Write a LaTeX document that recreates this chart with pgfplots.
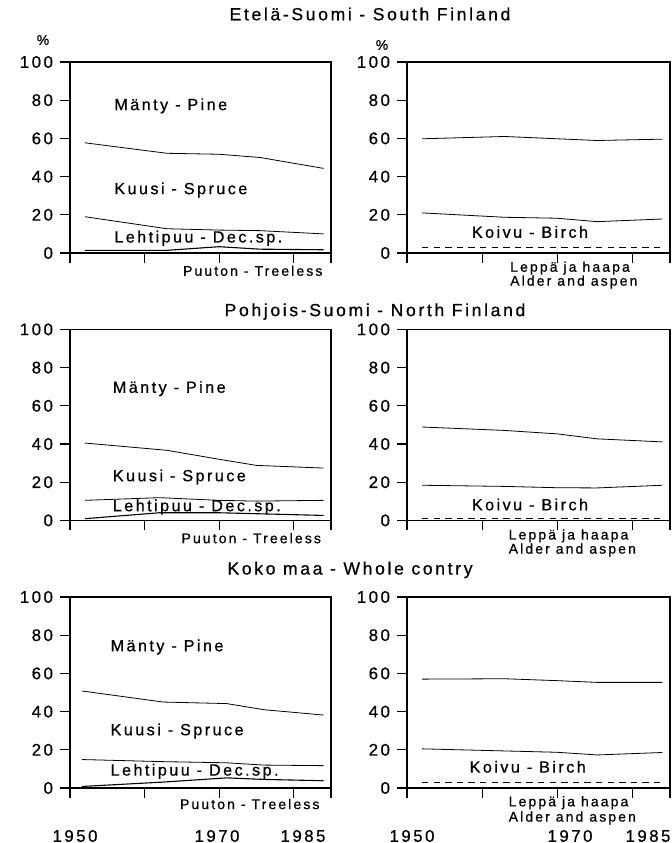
\documentclass[border=0pt]{standalone}
\usepackage{fontspec}
\setmainfont{Liberation Sans}[LetterSpace=15, FakeBold=0.7]
\usepackage{pgfplots}
\pgfplotsset{compat=1.18}

\pgfplotsset{
  panel/.style={
    scale only axis, height=95.5pt,
    xmin=1950, xmax=1985, ymin=0, ymax=100,
    xtick={1950,1960,1970,1980,1985}, xticklabels={},
    ytick={0,20,40,60,80,100},
    xtick pos=bottom, ytick pos=left, tick align=outside,
    major tick length=5pt,
    axis line style={line width=0.8pt},
    every tick/.style={line width=0.6pt,black},
    tick label style={font=\fontsize{8.4}{10}\selectfont},
    /pgf/number format/assume math mode=true,
    clip=false,
    cycle list={{black,solid,line width=0.55pt,mark=none}},
  },
  lp/.style={panel, width=130.5pt},
  rp/.style={panel, width=131.5pt},
  dashline/.style={black, line width=0.55pt, dash pattern=on 3.2pt off 2.6pt, mark=none},
  every node/.append style={inner sep=0pt},
}
\newcommand{\lab}{\fontsize{8.1}{9.5}\selectfont}
\newcommand{\sml}{\fontsize{7}{8.5}\selectfont}
\newcommand{\ttl}{\fontsize{8.8}{10}\selectfont}

\begin{document}
\begin{tikzpicture}
\useasboundingbox (0,0) rectangle (336pt,421.5pt);

% ---------------- Etelä-Suomi ----------------
\node[font=\ttl] at (185pt,414.5pt) {Etelä-Suomi - South Finland};
\node[font=\sml] at (21.5pt,401.5pt) {\%};
\node[font=\sml] at (191pt,399pt) {\%};

\begin{axis}[lp, at={(35pt,295pt)}, anchor=south west]
\addplot coordinates {(1952,57.7) (1963,52.2) (1970,51.7) (1975.5,50) (1984,44.3)};
\addplot coordinates {(1952,19) (1963,12.7) (1970,12) (1975.5,11.7) (1984,10)};
\addplot coordinates {(1952,1.4) (1963,1.4) (1970,3.3) (1975.5,2) (1984,1.7)};
\node[anchor=west,font=\lab] at (axis cs:1955,77) {Mänty - Pine};
\node[anchor=west,font=\lab] at (axis cs:1955,33) {Kuusi - Spruce};
\node[anchor=west,font=\lab] at (axis cs:1955,7.7) {Lehtipuu - Dec.sp.};
\node[anchor=east,font=\sml] at (axis cs:1984.8,-9.3) {Puuton - Treeless};
\end{axis}

\begin{axis}[rp, at={(203.5pt,295pt)}, anchor=south west]
\addplot coordinates {(1952,59.8) (1963,61) (1970,59.8) (1975.3,58.9) (1984,59.6)};
\addplot coordinates {(1952,21) (1963,18.7) (1970,18.2) (1975.3,16.4) (1984,17.8)};
\addplot[dashline] coordinates {(1952,3) (1963,3) (1970,3) (1975.3,3) (1984,3)};
\node[anchor=west,font=\lab] at (axis cs:1957.7,11) {Koivu - Birch};
\node[anchor=west,font=\sml] at (axis cs:1962.8,-7.9) {Leppä ja haapa};
\node[anchor=west,font=\sml] at (axis cs:1962.8,-15.2) {Alder and aspen};
\end{axis}

% ---------------- Pohjois-Suomi ----------------
\node[font=\ttl] at (187.5pt,265.7pt) {Pohjois-Suomi - North Finland};

\begin{axis}[lp, at={(35pt,161.3pt)}, anchor=south west]
\addplot coordinates {(1952,40.5) (1963,36.7) (1970,32) (1975,28.8) (1984,27.4)};
\addplot coordinates {(1952,10.5) (1962,11.9) (1970,10.5) (1975,10.1) (1984,10.5)};
\addplot coordinates {(1952,0.9) (1962,4) (1970,4) (1975,3.5) (1984,2.6)};
\node[anchor=west,font=\lab] at (axis cs:1954.8,69) {Mänty - Pine};
\node[anchor=west,font=\lab] at (axis cs:1954.8,22.7) {Kuusi - Spruce};
\node[anchor=west,font=\lab] at (axis cs:1954.8,7) {Lehtipuu - Dec.sp.};
\node[anchor=east,font=\sml] at (axis cs:1984.6,-9.3) {Puuton - Treeless};
\end{axis}

\begin{axis}[rp, at={(203.5pt,161.3pt)}, anchor=south west]
\addplot coordinates {(1952,48.9) (1963,47.1) (1970,45.3) (1975.3,42.7) (1984,41.1)};
\addplot coordinates {(1952,18.4) (1963,17.8) (1970,17.1) (1975.3,17) (1984,18.4)};
\addplot[dashline] coordinates {(1952,1) (1963,1) (1970,1) (1975.3,1) (1984,1)};
\node[anchor=west,font=\lab] at (axis cs:1957.7,8.3) {Koivu - Birch};
\node[anchor=west,font=\sml] at (axis cs:1962.6,-8.1) {Leppä ja haapa};
\node[anchor=west,font=\sml] at (axis cs:1962.6,-15.5) {Alder and aspen};
\end{axis}

% ---------------- Koko maa ----------------
\node[font=\ttl] at (175pt,136.5pt) {Koko maa - Whole contry};

\begin{axis}[lp, at={(35pt,27.5pt)}, anchor=south west]
\addplot coordinates {(1951.6,50.8) (1962.5,45) (1971,44.2) (1976,41) (1984,38.2)};
\addplot coordinates {(1951.6,14.9) (1962.5,13.8) (1971,13.2) (1976,12) (1984,11.7)};
\addplot coordinates {(1951.6,0.8) (1962.5,3.1) (1971,5.3) (1976,4.5) (1984,3.8)};
\node[anchor=west,font=\lab] at (axis cs:1954.5,73.8) {Mänty - Pine};
\node[anchor=west,font=\lab] at (axis cs:1954.5,29.8) {Kuusi - Spruce};
\node[anchor=west,font=\lab] at (axis cs:1954.5,8.7) {Lehtipuu - Dec.sp.};
\node[anchor=east,font=\sml] at (axis cs:1984.4,-8.4) {Puuton - Treeless};
\end{axis}

\begin{axis}[rp, at={(203.5pt,27.5pt)}, anchor=south west]
\addplot coordinates {(1952,57) (1963,57.2) (1970,56.2) (1975.3,55.3) (1984,55.3)};
\addplot coordinates {(1952,20.5) (1963,19.4) (1970,18.7) (1975.3,17.3) (1984,18.6)};
\addplot[dashline] coordinates {(1952,2.8) (1963,2.8) (1970,2.8) (1975.3,2.8) (1984,2.8)};
\node[anchor=west,font=\lab] at (axis cs:1957.4,11.1) {Koivu - Birch};
\node[anchor=west,font=\sml] at (axis cs:1962.6,-7.7) {Leppä ja haapa};
\node[anchor=west,font=\sml] at (axis cs:1962.6,-15.7) {Alder and aspen};
\end{axis}

% year labels under the bottom row
\node[font=\fontsize{8.4}{10}\selectfont] at (37.5pt,3.5pt) {1950};
\node[font=\fontsize{8.4}{10}\selectfont] at (108.5pt,3.5pt) {1970};
\node[font=\fontsize{8.4}{10}\selectfont] at (151.5pt,3.5pt) {1985};
\node[font=\fontsize{8.4}{10}\selectfont] at (206pt,3.5pt) {1950};
\node[font=\fontsize{8.4}{10}\selectfont] at (285pt,3.5pt) {1970};
\node[font=\fontsize{8.4}{10}\selectfont] at (324pt,3.5pt) {1985};
\end{tikzpicture}
\end{document}
